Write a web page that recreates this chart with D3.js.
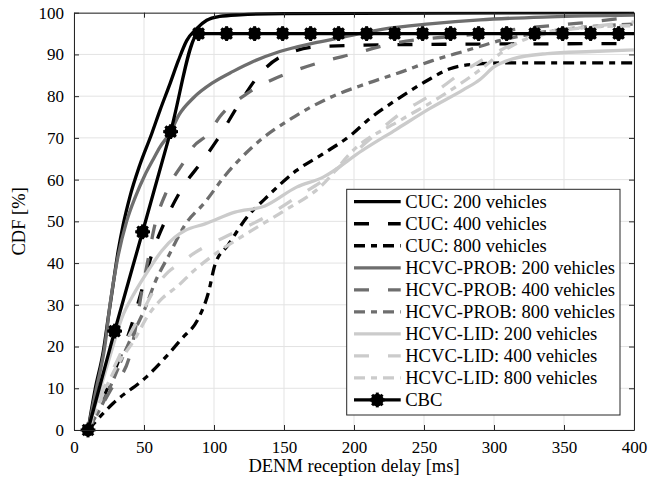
<!DOCTYPE html>
<html>
<head>
<meta charset="utf-8">
<script src="https://cdn.jsdelivr.net/npm/d3@7"></script>
<style>
  body { margin: 0; background: #fff; }
</style>
</head>
<body>
<script>
// x = delay [ms], y = CDF [%]
var cuc200_x = [10, 15, 21, 24.5, 28, 31.6, 35, 40, 47, 55.5, 61.4, 68.6, 74.5, 80.5, 87.6, 94.8, 104, 118.6, 150, 400];
var cuc200_y = [0, 9.6, 19, 27, 35, 43, 49, 56, 63.5, 71, 76.6, 83, 88.5, 93.3, 96.2, 98.2, 99.1, 99.5, 99.8, 100];

var cuc400_x = [10, 20, 30, 40, 48, 55.5, 65, 77, 92, 102, 118.6, 133, 147, 176, 250, 400];
var cuc400_y = [0, 7, 15, 24, 33, 42, 50, 57.8, 64.6, 69.4, 78.5, 85.4, 89.3, 91.9, 92.4, 92.6];

var cuc800_x = [10, 28, 52, 77, 88.8, 96, 100.7, 110, 124.5, 136.4, 159, 178, 199, 209, 233, 252, 268, 288, 310, 400];
var cuc800_y = [0, 6.4, 12.8, 21.9, 26.7, 32.9, 39.6, 44.3, 51.4, 55.4, 62.2, 66.2, 71, 74, 79.7, 83.7, 86.5, 87.7, 88, 88];

var prob200_x = [10, 16, 22, 25.7, 30.5, 37.6, 44, 50.5, 56, 61.4, 69, 75, 85, 99.5, 114, 128, 147, 171, 190, 220, 254, 290, 340, 400];
var prob200_y = [0, 10, 20, 30, 40, 50, 56, 61, 64.5, 67.8, 71.4, 75.5, 79.5, 83.3, 86, 88.3, 90.7, 92.7, 94, 96, 97.3, 98.3, 99, 99.4];

var prob400_x = [10, 26, 40, 44.8, 48.3, 53, 57, 66.7, 79, 85, 96, 104, 123, 142, 161, 180, 199, 226, 285, 328, 361, 400];
var prob400_y = [0, 9.5, 18, 26, 33, 41, 48, 57.6, 64.5, 67.8, 71, 75, 80.5, 84, 86.5, 88.5, 90.1, 92.5, 94.8, 96.5, 97.5, 99];

var prob800_x = [10, 20, 28, 38, 45, 50.7, 58, 68, 79, 93.6, 108, 128, 157, 185, 209, 233, 256, 280, 304, 328, 352, 400];
var prob800_y = [0, 6, 12, 20, 25, 29.1, 35.5, 42, 49, 54.6, 61, 68, 75, 80, 83, 85.7, 88.5, 90.9, 93.3, 95, 96.1, 97.3];

var lid200_x = [10, 18, 26, 34, 43.6, 53, 62.6, 72, 79.3, 93.6, 115, 136.4, 159, 178, 206, 230, 254, 278, 290, 300, 314, 338, 370, 400];
var lid200_y = [0, 9, 18, 26.7, 33.1, 38.2, 42.9, 46.2, 47.8, 49.4, 52.2, 53.7, 58.2, 60.6, 67, 72, 77, 81.5, 84, 87, 89, 90.2, 90.7, 91.1];

var lid400_x = [10, 20, 30, 40, 50, 58, 67.4, 76, 86.4, 110, 136.4, 159, 178, 209, 233, 256, 276, 295, 314, 338, 366, 400];
var lid400_y = [0, 9, 16, 23, 29, 34, 37.9, 40, 42.5, 46.6, 51, 55.8, 59.8, 69, 75.8, 80.5, 85.4, 89.3, 92.5, 95, 96.5, 97.8];

var lid800_x = [10, 20, 30, 43.6, 53, 62.6, 74.5, 85, 100, 123, 150, 175, 202, 233, 261, 290, 309, 328, 352, 400];
var lid800_y = [0, 8, 15, 21.9, 27.5, 31.4, 34.6, 38, 42, 47, 52.5, 58, 67.8, 74.2, 79.7, 86.3, 91.3, 94.4, 96.1, 96.9];

var cbc_x = [10, 29, 49, 69, 89, 109, 129, 149, 169, 189, 209, 229, 249, 269, 289, 309, 329, 349, 369, 389, 400];
var cbc_y = [0, 23.7, 47.5, 71.5, 95, 95, 95, 95, 95, 95, 95, 95, 95, 95, 95, 95, 95, 95, 95, 95, 95];

var labels = ["CUC: 200 vehicles", "CUC: 400 vehicles", "CUC: 800 vehicles",
  "HCVC-PROB: 200 vehicles", "HCVC-PROB: 400 vehicles", "HCVC-PROB: 800 vehicles",
  "HCVC-LID: 200 vehicles", "HCVC-LID: 400 vehicles", "HCVC-LID: 800 vehicles", "CBC"];

var xTicks = [0, 50, 100, 150, 200, 250, 300, 350, 400];
var yTicks = [0, 10, 20, 30, 40, 50, 60, 70, 80, 90, 100];

var zip = (xs, ys) => xs.map((x, i) => [x, ys[i]]);

var black = "#000", dark = "#6e6e6e", light = "#cbcbcb";
var dash = "15,19", dashdot = "11,6,6,6";
var FONT = "'Liberation Serif', 'DejaVu Serif', serif";

var series = [
  { pts: zip(cuc200_x, cuc200_y), color: black, dash: null },
  { pts: zip(cuc400_x, cuc400_y), color: black, dash: dash },
  { pts: zip(cuc800_x, cuc800_y), color: black, dash: dashdot },
  { pts: zip(prob200_x, prob200_y), color: dark, dash: null },
  { pts: zip(prob400_x, prob400_y), color: dark, dash: dash },
  { pts: zip(prob800_x, prob800_y), color: dark, dash: dashdot },
  { pts: zip(lid200_x, lid200_y), color: light, dash: null },
  { pts: zip(lid400_x, lid400_y), color: light, dash: dash },
  { pts: zip(lid800_x, lid800_y), color: light, dash: dashdot },
  { pts: zip(cbc_x, cbc_y), color: black, dash: null, marker: true }
];
series.forEach((s, i) => s.label = labels[i]);

var W = 669, H = 483;
var margin = { top: 12.7, right: 35, bottom: 53, left: 74 };

var svg = d3.select("body").append("svg")
  .attr("width", W).attr("height", H)
  .attr("font-family", FONT);

var x = d3.scaleLinear().domain([0, 400]).range([margin.left, W - margin.right]);
var y = d3.scaleLinear().domain([0, 100]).range([H - margin.bottom, margin.top]);

// grid
svg.append("g").selectAll("line").data(xTicks).join("line")
  .attr("x1", d => x(d)).attr("x2", d => x(d))
  .attr("y1", y(0)).attr("y2", y(100))
  .attr("stroke", "#e3e3e3").attr("stroke-width", 1);
svg.append("g").selectAll("line").data(yTicks).join("line")
  .attr("y1", d => y(d)).attr("y2", d => y(d))
  .attr("x1", x(0)).attr("x2", x(400))
  .attr("stroke", "#e3e3e3").attr("stroke-width", 1);

svg.append("clipPath").attr("id", "clip").append("rect")
  .attr("x", x(0) - 8).attr("y", y(100) - 1)
  .attr("width", x(400) - x(0) + 9).attr("height", y(0) - y(100) + 9);

var line = d3.line().x(d => x(d[0])).y(d => y(d[1])).curve(d3.curveMonotoneX);

var plot = svg.append("g").attr("clip-path", "url(#clip)");

series.forEach(s => {
  plot.append("path")
    .attr("d", line(s.pts))
    .attr("fill", "none")
    .attr("stroke", s.color)
    .attr("stroke-width", 3.3)
    .attr("stroke-linejoin", "round")
    .attr("stroke-dasharray", s.dash);
});

// CBC markers: filled circle with an asterisk on top
function marker(g, cx, cy) {
  g.append("circle").attr("cx", cx).attr("cy", cy).attr("r", 6.3).attr("fill", "#000");
  var r = 7.4;
  [0, 45, 90, 135].forEach(a => {
    var dx = r * Math.cos(a * Math.PI / 180), dy = r * Math.sin(a * Math.PI / 180);
    g.append("line")
      .attr("x1", cx - dx).attr("y1", cy - dy).attr("x2", cx + dx).attr("y2", cy + dy)
      .attr("stroke", "#000").attr("stroke-width", 3);
  });
}
var cbc = series[9];
cbc.pts.slice(0, -1).forEach(p => marker(svg, x(p[0]), y(p[1])));

// axes box and ticks
var axisColor = "#262626";
var xAxisB = d3.axisBottom(x).tickValues(xTicks).tickSizeInner(-5).tickSizeOuter(0).tickPadding(11);
var yAxisL = d3.axisLeft(y).tickValues(yTicks).tickSizeInner(-5).tickSizeOuter(0).tickPadding(10);
var xAxisT = d3.axisTop(x).tickValues(xTicks).tickSizeInner(-5).tickSizeOuter(0).tickFormat("");
var yAxisR = d3.axisRight(y).tickValues(yTicks).tickSizeInner(-5).tickSizeOuter(0).tickFormat("");

function styleAxis(g) {
  g.attr("font-family", FONT).attr("font-size", 17);
  g.select(".domain").attr("stroke", axisColor).attr("stroke-width", 1);
  g.selectAll(".tick line").attr("stroke", axisColor);
  g.selectAll(".tick text").attr("fill", "#000");
}

svg.append("g").attr("transform", `translate(0,${y(0)})`).call(xAxisB).call(styleAxis);
svg.append("g").attr("transform", `translate(${x(0)},0)`).call(yAxisL).call(styleAxis);
svg.append("g").attr("transform", `translate(0,${y(100)})`).call(xAxisT).call(styleAxis);
svg.append("g").attr("transform", `translate(${x(400)},0)`).call(yAxisR).call(styleAxis);

// axis labels
svg.append("text")
  .attr("x", (x(0) + x(400)) / 2).attr("y", 472)
  .attr("text-anchor", "middle").attr("font-size", 18.5)
  .text("DENM reception delay [ms]");
svg.append("text")
  .attr("transform", `translate(25,${(y(0) + y(100)) / 2}) rotate(-90)`)
  .attr("text-anchor", "middle").attr("font-size", 18.5)
  .text("CDF [%]");

// legend
var lg = svg.append("g");
var lx = 346.7, ly = 189.3, lw = 273.3, lh = 225.7, rowH = 22.03;
lg.append("rect").attr("x", lx).attr("y", ly).attr("width", lw).attr("height", lh)
  .attr("fill", "#fff").attr("stroke", axisColor).attr("stroke-width", 1);

series.forEach((s, i) => {
  var cy = ly + 12.4 + i * rowH;
  lg.append("line")
    .attr("x1", lx + 7.3).attr("x2", lx + 54).attr("y1", cy).attr("y2", cy)
    .attr("stroke", s.color).attr("stroke-width", 3.3)
    .attr("stroke-dasharray", s.dash);
  if (s.marker) marker(lg, lx + 30.6, cy);
  lg.append("text")
    .attr("x", lx + 58.5).attr("y", cy).attr("dy", "0.34em")
    .attr("font-size", 18.6)
    .text(s.label);
});
</script>
</body>
</html>
